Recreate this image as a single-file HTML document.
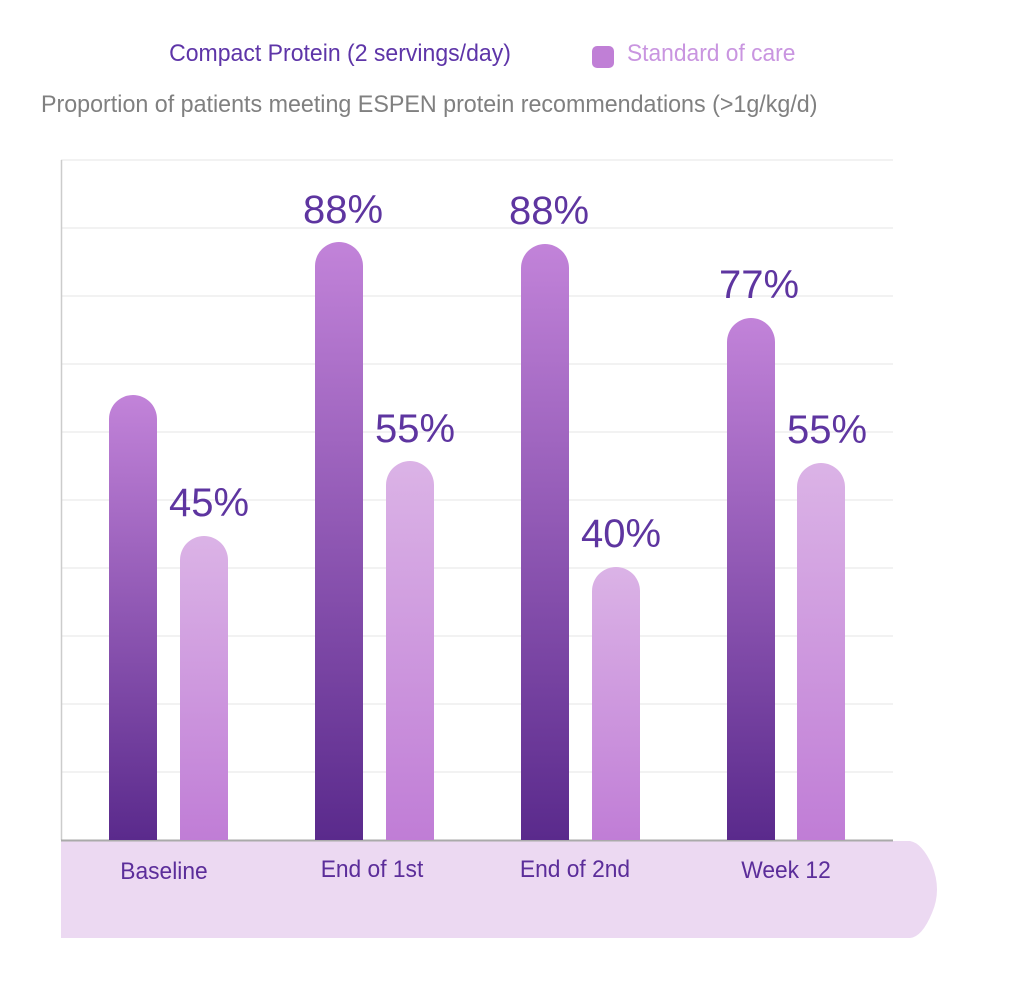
<!DOCTYPE html>
<html><head><meta charset="utf-8"><style>
html,body{margin:0;padding:0;background:#fff;}
svg{display:block;}
text{font-family:"Liberation Sans",sans-serif;}
</style></head><body>
<svg width="1024" height="1001" viewBox="0 0 1024 1001" xmlns="http://www.w3.org/2000/svg">
<defs>
<linearGradient id="dk" x1="0" y1="0" x2="0" y2="1">
<stop offset="0" stop-color="#c283d9"/><stop offset="1" stop-color="#5a2a8c"/></linearGradient>
<linearGradient id="lt" x1="0" y1="0" x2="0" y2="1">
<stop offset="0" stop-color="#dbb3e6"/><stop offset="1" stop-color="#c07dd6"/></linearGradient>
</defs>
<text x="340" y="61" font-size="24" fill="#5e35a8" text-anchor="middle" transform="translate(340 0) scale(0.96 1) translate(-340 0)">Compact Protein (2 servings/day)</text>
<rect x="592" y="46" width="22" height="22" rx="5" fill="#c07fd6"/>
<text x="627" y="61" font-size="24" fill="#c995e0" transform="translate(627 0) scale(0.95 1) translate(-627 0)">Standard of care</text>
<text x="41" y="112" font-size="24" fill="#808080" transform="translate(41 0) scale(0.97 1) translate(-41 0)">Proportion of patients meeting ESPEN protein recommendations (&gt;1g/kg/d)</text>
<g stroke="#eeeeee" stroke-width="1.5">
<line x1="61" y1="160" x2="893" y2="160"/><line x1="61" y1="228" x2="893" y2="228"/>
<line x1="61" y1="296" x2="893" y2="296"/><line x1="61" y1="364" x2="893" y2="364"/>
<line x1="61" y1="432" x2="893" y2="432"/><line x1="61" y1="500" x2="893" y2="500"/>
<line x1="61" y1="568" x2="893" y2="568"/><line x1="61" y1="636" x2="893" y2="636"/>
<line x1="61" y1="704" x2="893" y2="704"/><line x1="61" y1="772" x2="893" y2="772"/>
</g>
<line x1="61.5" y1="160" x2="61.5" y2="840" stroke="#cccccc" stroke-width="1.5"/>
<path d="M61 841 H910 Q922 843 932 865 Q942 890 932 913 Q922 937 910 938 H61 Z" fill="#ecd9f2"/>
<line x1="61" y1="840.5" x2="893" y2="840.5" stroke="#aaaaaa" stroke-width="2"/>
<g fill="url(#dk)">
<path d="M109 840 V419 A24 24 0 0 1 157 419 V840 Z"/>
<path d="M315 840 V266 A24 24 0 0 1 363 266 V840 Z"/>
<path d="M521 840 V268 A24 24 0 0 1 569 268 V840 Z"/>
<path d="M727 840 V342 A24 24 0 0 1 775 342 V840 Z"/>
</g>
<g fill="url(#lt)">
<path d="M180 840 V560 A24 24 0 0 1 228 560 V840 Z"/>
<path d="M386 840 V485 A24 24 0 0 1 434 485 V840 Z"/>
<path d="M592 840 V591 A24 24 0 0 1 640 591 V840 Z"/>
<path d="M797 840 V487 A24 24 0 0 1 845 487 V840 Z"/>
</g>
<g font-size="40" fill="#5e35a0" text-anchor="middle">
<text x="209" y="516">45%</text>
<text x="343" y="223">88%</text>
<text x="415" y="442">55%</text>
<text x="549" y="224">88%</text>
<text x="621" y="547">40%</text>
<text x="759" y="298">77%</text>
<text x="827" y="443">55%</text>
</g>
<g font-size="24" fill="#5b2d9a" text-anchor="middle">
<text x="164" y="879" transform="translate(164 0) scale(0.95 1) translate(-164 0)">Baseline</text>
<text x="372" y="877" transform="translate(372 0) scale(0.95 1) translate(-372 0)">End of 1st</text>
<text x="575" y="877" transform="translate(575 0) scale(0.95 1) translate(-575 0)">End of 2nd</text>
<text x="786" y="878" transform="translate(786 0) scale(0.95 1) translate(-786 0)">Week 12</text>
</g>
</svg>
</body></html>
